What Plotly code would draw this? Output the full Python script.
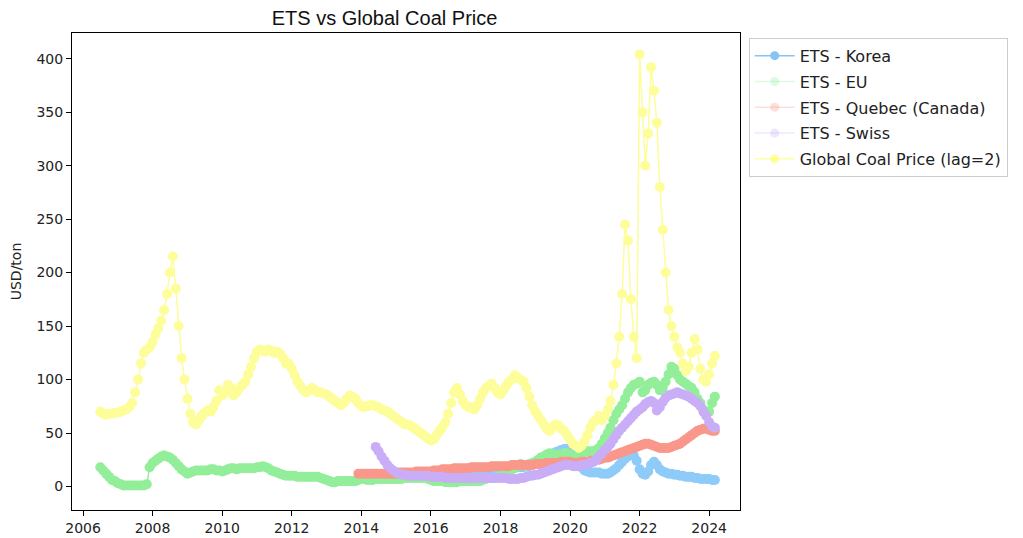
import pandas as pd
import plotly.graph_objects as go

# monthly values (USD/ton)
coal_start = "2006-07-01"
coal = [
    70, 68, 67, 68, 68,
    69, 69, 70, 71, 72, 74, 78, 88, 100, 115, 125, 128,
    130, 135, 142, 148, 155, 165, 180, 200, 215, 185, 150, 120,
    100, 82, 68, 60, 58, 62, 66, 69, 71, 70, 74, 80,
    90, 85, 88, 95, 92, 85, 88, 92, 95, 98, 105, 112,
    120, 126, 128, 127, 126, 128, 127, 125, 126, 124, 120, 115,
    115, 110, 104, 98, 94, 90, 88, 90, 92, 90, 88, 88,
    87, 86, 84, 82, 80, 78, 76, 78, 82, 85, 84, 82,
    78, 75, 74, 75, 76, 76, 75, 74, 72, 71, 70, 68,
    66, 64, 62, 60, 58, 58, 57, 55, 53, 51, 49, 47,
    45, 43, 44, 48, 52, 55, 60, 68, 78, 88, 92, 86,
    80, 76, 74, 74, 72, 76, 82, 88, 92, 94, 96, 92,
    88, 86, 90, 94, 98, 100, 104, 102, 100, 98, 92, 84,
    76, 70, 66, 62, 58, 54, 52, 55, 58, 57, 54, 52,
    48, 44, 40, 38, 36, 38, 42, 48, 55, 60, 62, 66,
    62, 66, 72, 80, 95, 115, 140, 180, 245, 230, 175, 140,
    120, 404, 350, 300, 330, 392, 370, 340, 280, 240, 200, 165,
    150, 140, 130, 125, 115, 108, 112, 125, 138, 128, 110, 100,
    98, 105, 115, 122,
]

eu_start = "2006-07-01"
eu = [
    18, 15, 12, 9, 6,
    5, 3, 2, 1, 1, 1, 1, 1, 1, 1, 1, 2,
    18, 22, 24, 26, 28, 29, 28, 27, 25, 22, 19, 16,
    14, 12, 13, 14, 15, 15, 15, 15, 15, 16, 16, 15,
    15, 14, 15, 16, 17, 17, 16, 17, 17, 17, 17, 17,
    17, 18, 18, 19, 18, 17, 15, 14, 13, 12, 11, 10,
    10, 10, 10, 9, 9, 9, 9, 9, 9, 9, 9, 8,
    7, 6, 5, 4, 4, 5, 5, 5, 5, 5, 5, 5,
    6, 7, 7, 6, 6, 6, 7, 7, 7, 7, 7, 7,
    7, 7, 7, 7, 8, 8, 8, 8, 8, 8, 8, 8,
    7, 6, 5, 5, 5, 5, 4, 4, 4, 4, 4, 5,
    5, 5, 5, 5, 5, 5, 5, 6, 7, 8, 8, 8,
    9, 10, 12, 13, 15, 16, 17, 19, 21, 20, 19, 21,
    22, 23, 25, 27, 28, 30, 31, 30, 30, 30, 30, 31,
    31, 30, 27, 26, 28, 31, 32, 33, 33, 33, 34, 36,
    40, 45, 50, 55, 62, 68, 72, 76, 82, 88, 92, 95,
    96, 98, 88, 90, 95, 97, 98, 95, 90, 92, 98, 105,
    112, 110, 104, 100, 98, 96, 94, 92, 88, 82, 78, 72,
    68, 70, 78, 84,
]

quebec_start = "2013-12-01"
quebec = [
    12, 12, 12, 12, 12, 12, 12, 12, 12, 12, 12, 12,
    12, 12, 13, 13, 13, 13, 13, 13, 14, 14, 14, 14,
    14, 14, 15, 15, 15, 16, 16, 16, 16, 17, 17, 17,
    17, 17, 17, 18, 18, 18, 18, 18, 18, 18, 19, 19,
    19, 19, 19, 19, 19, 20, 20, 20, 20, 20, 20, 20,
    20, 21, 21, 21, 21, 22, 22, 22, 22, 22, 23, 23,
    23, 23, 22, 22, 22, 23, 23, 23, 24, 24, 25, 25,
    26, 27, 27, 28, 29, 30, 31, 32, 33, 34, 35, 36,
    37, 38, 39, 40, 40, 39, 38, 37, 36, 36, 36, 36,
    37, 38, 39, 40, 42, 44, 46, 48, 50, 52, 53, 54,
    54, 53, 52, 52,
]

swiss_start = "2014-06-01"
swiss = [
    37, 33, 28, 24, 20, 17,
    15, 13, 12, 11, 11, 10, 10, 10, 10, 10, 10, 10,
    10, 9, 9, 9, 9, 9, 8, 8, 8, 8, 8, 8,
    8, 8, 8, 8, 8, 8, 8, 8, 8, 8, 8, 8,
    8, 8, 8, 8, 7, 7, 7, 7, 8, 8, 9, 10,
    10, 11, 11, 12, 13, 14, 15, 16, 17, 18, 19, 20,
    20, 20, 19, 19, 19, 20, 20, 21, 22, 23, 25, 28,
    31, 34, 37, 40, 44, 48, 52, 55, 58, 61, 64, 67,
    70, 72, 74, 77, 79, 80, 78, 71, 74, 79, 83, 85,
    86, 87, 88, 87, 86, 85, 84, 82, 80, 78, 75, 70,
    66, 60, 56, 55,
]

korea_start = "2014-12-01"
korea = [
    8, 8, 9, 9, 9, 10, 10, 10, 11, 11, 12, 12,
    12, 13, 13, 14, 14, 14, 15, 15, 15, 15, 15, 16,
    15, 15, 16, 16, 16, 16, 16, 17, 17, 17, 17, 17,
    17, 17, 18, 18, 18, 18, 18, 18, 18, 18, 19, 19,
    20, 21, 22, 24, 26, 28, 29, 30, 32, 33, 34, 35,
    35, 34, 33, 30, 24, 18, 15, 14, 13, 13, 13, 13,
    12, 12, 12, 13, 15, 17, 20, 23, 26, 28, 30, 29,
    24, 16, 12, 11, 14, 20, 23, 20, 16, 14, 13, 12,
    12, 11, 11, 10, 10, 9, 9, 9, 8, 8, 7, 7,
    7, 7, 6, 6,
]

series = [
    ("ETS - Korea", korea_start, korea, "#8ecbf9", "rgba(135,195,245,1)"),
    ("ETS - EU", eu_start, eu, "#93ee9a", "rgba(147,238,154,0.3)"),
    ("ETS - Quebec (Canada)", quebec_start, quebec, "#fa978b", "rgba(250,151,139,0.3)"),
    ("ETS - Swiss", swiss_start, swiss, "#c9aef7", "rgba(201,174,247,0.3)"),
    ("Global Coal Price (lag=2)", coal_start, coal, "#fdfd99", "rgba(253,253,80,0.5)"),
]

fig = go.Figure()
for name, start, vals, col, legcol in series:
    dates = pd.date_range(start, periods=len(vals), freq="MS")
    fig.add_trace(go.Scatter(
        x=dates, y=vals, mode="lines+markers", name=name, showlegend=False,
        line=dict(color=col, width=1.5),
        marker=dict(color=col, size=10),
    ))

# legend entries (faint like the original)
for name, start, vals, col, legcol in series:
    fig.add_trace(go.Scatter(
        x=[None], y=[None], mode="lines+markers", name=name, legendgroup=name,
        line=dict(color=legcol, width=1.5),
        marker=dict(color=legcol, size=9),
    ))

years = [str(y) for y in range(2006, 2025, 2)]

# page has an 8px body margin, so the figure is 8px smaller than the window
fig.update_layout(
    width=1015, height=530,
    margin=dict(l=64, r=283, t=25, b=28),
    paper_bgcolor="white", plot_bgcolor="white",
    font=dict(family="DejaVu Sans", size=14, color="#222"),
    title=dict(text="ETS vs Global Coal Price", x=0.371, xanchor="center",
               y=0.981, yanchor="middle",
               font=dict(family="Liberation Sans", size=20, color="#111")),
    legend=dict(x=1.013, y=0.99, xanchor="left", yanchor="top",
                bordercolor="#cccccc", borderwidth=1,
                font=dict(size=16), itemwidth=40,
                traceorder="grouped", tracegroupgap=2),
    showlegend=True,
)
fig.update_xaxes(
    range=["2005-09-07", "2024-11-20"], automargin=False,
    tickvals=[y + "-01-01" for y in years], ticktext=years,
    ticks="outside", ticklen=5, tickcolor="black",
    showline=True, linecolor="black", linewidth=1, mirror=True,
    showgrid=False, zeroline=False,
)
fig.update_yaxes(
    range=[-22, 424], tickvals=list(range(0, 401, 50)), automargin=False,
    ticks="outside", ticklen=5, tickcolor="black",
    showline=True, linecolor="black", linewidth=1, mirror=True,
    showgrid=False, zeroline=False,
    title=dict(text="USD/ton", font=dict(size=14)),
)

fig.write_html("out.html")
